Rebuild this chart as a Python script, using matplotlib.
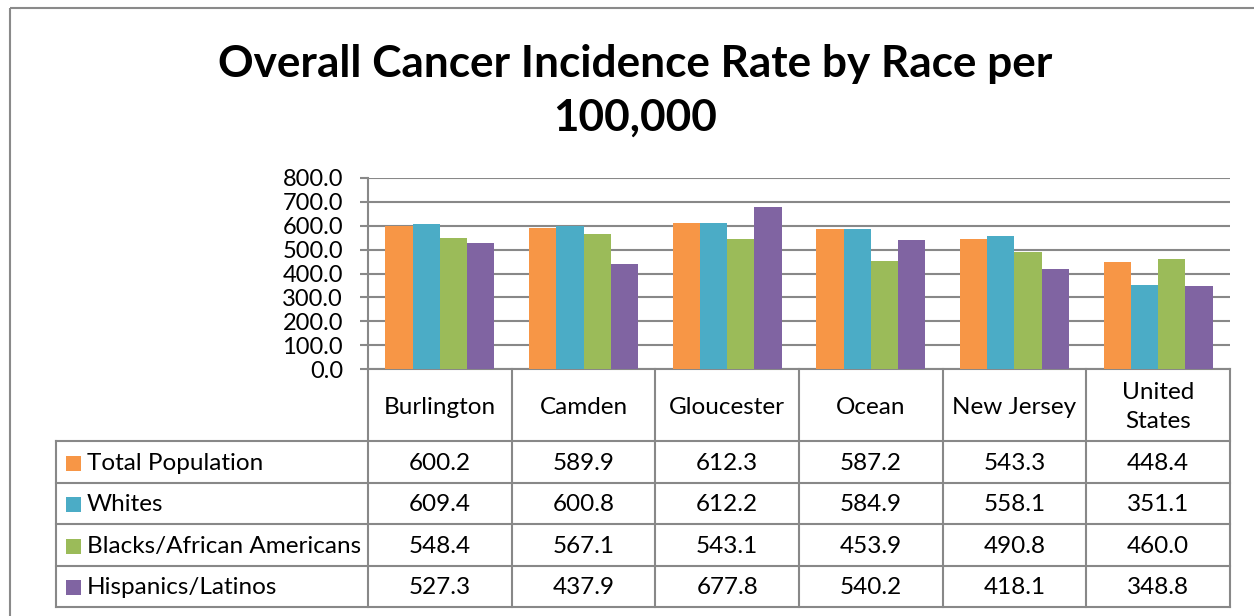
import matplotlib
matplotlib.use("Agg")
import matplotlib.pyplot as plt
from matplotlib.patches import Rectangle
from matplotlib.lines import Line2D
import numpy as np

categories = ["Burlington", "Camden", "Gloucester", "Ocean", "New Jersey", "United\nStates"]
series_names = ["Total Population", "Whites", "Blacks/African Americans", "Hispanics/Latinos"]
total_population = [600.2, 589.9, 612.3, 587.2, 543.3, 448.4]
whites = [609.4, 600.8, 612.2, 584.9, 558.1, 351.1]
blacks = [548.4, 567.1, 543.1, 453.9, 490.8, 460.0]
hispanics = [527.3, 437.9, 677.8, 540.2, 418.1, 348.8]
yticks = [0, 100, 200, 300, 400, 500, 600, 700, 800]
title = "Overall Cancer Incidence Rate by Race per\n100,000"

series = [total_population, whites, blacks, hispanics]
colors = ["#F79646", "#4BACC6", "#9BBB59", "#8064A2"]
grid_c = "#888888"
FONT = ["Lato", "DejaVu Sans"]
plt.rcParams["font.family"] = FONT
FS = 17.5

W, H = 1254, 616
fig = plt.figure(figsize=(W / 100, H / 100), dpi=100)

# overlay axes in pixel coordinates (y downward)
ov = fig.add_axes([0, 0, 1, 1])
ov.set_xlim(0, W)
ov.set_ylim(H, 0)
ov.axis("off")

# plot area in pixels
px0, px1, py_top, py_bot = 368, 1230, 178, 369
ax = fig.add_axes([px0 / W, (H - py_bot) / H, (px1 - px0) / W, (py_bot - py_top) / H])
n = len(categories)
x = np.arange(n)
bw = 0.19
for i, (vals, c) in enumerate(zip(series, colors)):
    ax.bar(x + (i - 1.5) * bw, vals, width=bw, color=c, zorder=3, linewidth=0)
ax.set_xlim(-0.5, n - 0.5)
ax.set_ylim(0, 800)
ax.set_yticks(yticks)
ax.set_yticklabels([f"{v:.1f}" for v in yticks], fontsize=17)
ax.set_xticks([])
ax.yaxis.grid(True, color=grid_c, linewidth=1.5, zorder=0)
for s in ["top", "right"]:
    ax.spines[s].set_visible(False)
ax.spines["left"].set_color(grid_c)
ax.spines["bottom"].set_color(grid_c)
ax.spines["left"].set_linewidth(1.5)
ax.spines["bottom"].set_linewidth(1.5)
ax.tick_params(axis="y", direction="out", length=6, color=grid_c, width=1.5, pad=12)
ax.set_facecolor("none")

# outer border
ov.add_patch(Rectangle((10, 8), W + 20, H + 20, fill=False, edgecolor="#8a8a8a", linewidth=1.5))

# title
ov.text(635, 91, title, ha="center", va="center", fontsize=31.8, fontweight="bold",
        linespacing=1.42, color="black")

# table
colw = (px1 - px0) / n
col_edges = [px0 + i * colw for i in range(n + 1)]
header_bot = 441
row_h = 41.5
row_edges = [header_bot + i * row_h for i in range(len(series) + 1)]
leg_x = 56
lc = dict(color=grid_c, linewidth=1.5)
for xe in col_edges:
    ov.add_line(Line2D([xe, xe], [py_bot, row_edges[-1]], **lc))
ov.add_line(Line2D([leg_x, leg_x], [header_bot, row_edges[-1]], **lc))
for ye in row_edges:
    ov.add_line(Line2D([leg_x, px1], [ye, ye], **lc))

for i, cat in enumerate(categories):
    cx = (col_edges[i] + col_edges[i + 1]) / 2
    ov.text(cx, (py_bot + header_bot) / 2 + 2, cat, ha="center", va="center", fontsize=FS,
            linespacing=1.45)

for r, (name, vals, c) in enumerate(zip(series_names, series, colors)):
    cy = (row_edges[r] + row_edges[r + 1]) / 2 + 1.5
    ov.add_patch(Rectangle((66, cy - 7.5), 15, 15, color=c, linewidth=0))
    ov.text(87, cy, name, ha="left", va="center", fontsize=FS)
    for i, v in enumerate(vals):
        cx = (col_edges[i] + col_edges[i + 1]) / 2
        ov.text(cx, cy, f"{v:.1f}", ha="center", va="center", fontsize=FS)

fig.savefig("out.png", dpi=100)
